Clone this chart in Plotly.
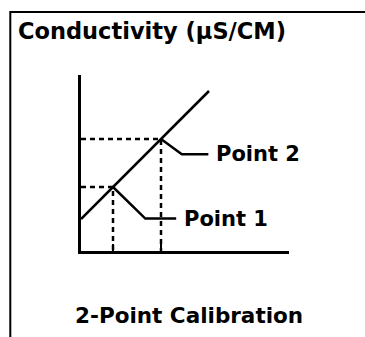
import plotly.graph_objects as go

# Data: calibration line and points (RAW vs Conductivity)
line_raw = [0, 8]
line_cond = [2, 10]
cal_raw = [2, 5]
cal_cond = [4, 7]
cal_labels = ["Point 1", "Point 2"]
x_max = 13
y_max = 11

# layout constants (leader line offsets in data units)
leader_elbow = [(2.02, -1.97), (1.3, -0.95)]
leader_len = [1.93, 1.66]
label_gap = [0.55, 0.55]

W, H = 365, 337
L, R, T, B = 80.7, 76.3, 75, 86
pw = W - L - R
ph = H - T - B

def px(x):
    return (x - L) / pw

def py(y):
    return 1 + (T - y) / ph

FONT = "DejaVu Sans, Verdana, sans-serif"
LW = 2.5

fig = go.Figure()

for rx, cy in zip(cal_raw, cal_cond):
    fig.add_trace(go.Scatter(x=[0, rx, rx], y=[cy, cy, 0], mode="lines",
                             line=dict(color="black", width=LW, dash="5px,4px"),
                             hoverinfo="skip", showlegend=False))

fig.add_trace(go.Scatter(x=line_raw, y=line_cond, mode="lines",
                         line=dict(color="black", width=LW),
                         hoverinfo="skip", showlegend=False))

for rx, cy, (dx, dy), ln, gap, lab in zip(cal_raw, cal_cond, leader_elbow, leader_len, label_gap, cal_labels):
    ex, ey = rx + dx, cy + dy
    fig.add_trace(go.Scatter(x=[rx, ex, ex + ln], y=[cy, ey, ey], mode="lines",
                             line=dict(color="black", width=LW),
                             hoverinfo="skip", showlegend=False))
    fig.add_annotation(x=ex + ln + gap, y=ey, xref="x", yref="y", text="<b>" + lab + "</b>",
                       showarrow=False, xanchor="left", yanchor="middle",
                       xshift=-3, font=dict(family=FONT, size=21, color="black"))

fig.add_annotation(x=11.6, y=-0.97, xref="x", yref="y", text="<b>RAW</b>", showarrow=False,
                   xanchor="center", yanchor="middle",
                   font=dict(family=FONT, size=19, color="black"))

fig.add_annotation(x=px(16), y=py(31), xref="paper", yref="paper",
                   text="<b>Conductivity (µS/CM)</b>", showarrow=False,
                   xanchor="left", yanchor="middle",
                   font=dict(family=FONT, size=22.5, color="black"))

fig.add_annotation(x=px(189), y=py(315), xref="paper", yref="paper",
                   text="<b>2-Point Calibration</b>", showarrow=False,
                   xanchor="center", yanchor="middle",
                   font=dict(family=FONT, size=21.5, color="black"))

# outer border (extends beyond right and bottom edges)
fig.add_shape(type="rect", xref="paper", yref="paper",
              x0=px(10), y0=-1.5, x1=2.5, y1=py(12),
              line=dict(color="black", width=2), fillcolor="rgba(0,0,0,0)")

fig.update_layout(
    width=W, height=H,
    margin=dict(l=L, r=R, t=T, b=B, pad=0),
    paper_bgcolor="white", plot_bgcolor="white",
    xaxis=dict(range=[0, x_max], showgrid=False, zeroline=False, showline=True,
               linecolor="black", linewidth=LW, tickvals=cal_raw, ticks="inside",
               ticklen=7, tickwidth=2, tickcolor="black", showticklabels=False,
               fixedrange=True),
    yaxis=dict(range=[0, y_max], showgrid=False, zeroline=False, showline=True,
               linecolor="black", linewidth=LW, showticklabels=False, ticks="",
               fixedrange=True),
)

fig.write_html("out.html", config={"displayModeBar": False},
               post_script="document.body.style.margin='0px';document.body.style.overflow='hidden';")
